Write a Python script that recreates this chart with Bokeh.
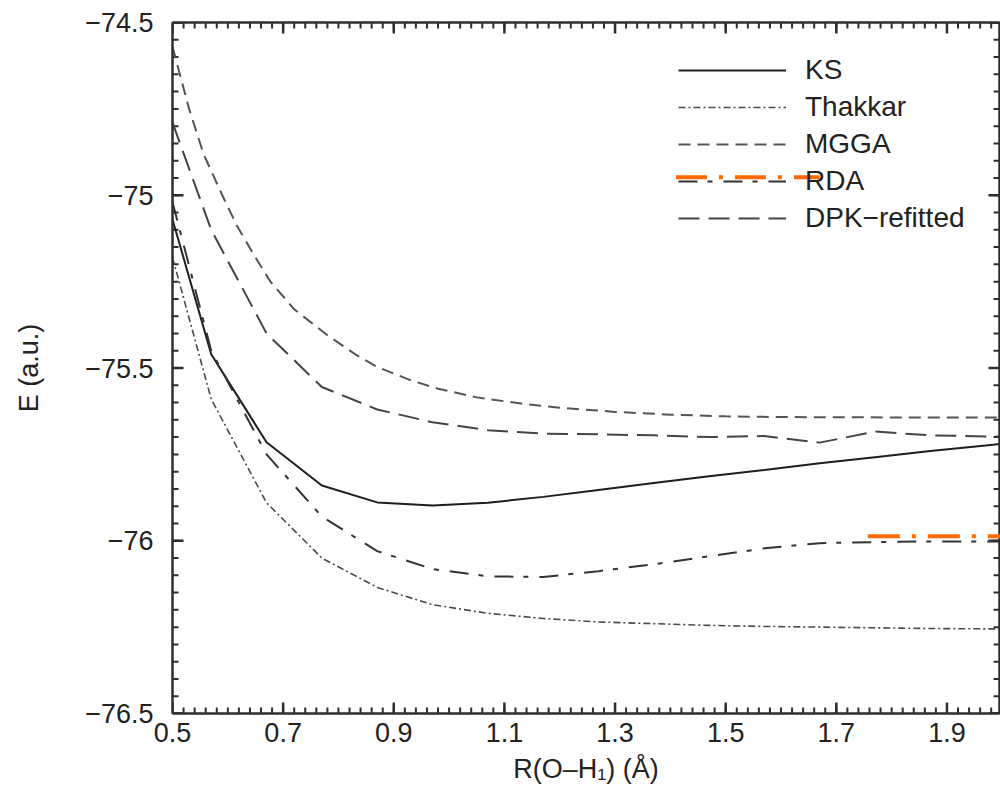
from bokeh.plotting import figure
from bokeh.models import (FixedTicker, LinearAxis, Legend, LegendItem, Label, Range1d)
from bokeh.embed import file_html
from bokeh.resources import INLINE

# ---------------- data ----------------
r_oh = [0.5, 0.57, 0.67, 0.77, 0.87, 0.97, 1.07, 1.17, 1.27, 1.37, 1.47, 1.57,
        1.67, 1.77, 1.87, 1.97, 2.0]
e_ks = [-75.07, -75.46, -75.715, -75.84, -75.889, -75.898, -75.89, -75.873,
        -75.853, -75.833, -75.813, -75.795, -75.776, -75.758, -75.74, -75.724, -75.719]
e_thakkar = [-75.18, -75.59, -75.89, -76.05, -76.135, -76.185, -76.21, -76.225,
             -76.235, -76.24, -76.245, -76.248, -76.25, -76.252, -76.254, -76.255, -76.255]
e_rda = [-75.02, -75.45, -75.75, -75.93, -76.03, -76.082, -76.103, -76.105,
         -76.088, -76.068, -76.045, -76.022, -76.007, -76.004, -76.002, -76.002, -76.002]
e_dpk = [-74.79, -75.10, -75.40, -75.555, -75.62, -75.657, -75.68, -75.69,
         -75.692, -75.695, -75.70, -75.697, -75.716, -75.684, -75.695, -75.698, -75.698]

# MGGA is drawn on its own (smooth) grid
r_mgga = [0.5, 0.53, 0.556, 0.59, 0.617, 0.65, 0.677, 0.72, 0.78, 0.83, 0.87,
          0.93, 0.98, 1.05, 1.13, 1.2, 1.3, 1.4, 1.5, 1.6, 1.8, 2.0]
e_mgga = [-74.57, -74.75, -74.88, -75.0, -75.09, -75.18, -75.25, -75.33, -75.405,
          -75.46, -75.497, -75.535, -75.56, -75.585, -75.603, -75.615, -75.627,
          -75.635, -75.64, -75.642, -75.643, -75.643]

series_labels = ["KS", "Thakkar", "MGGA", "RDA", "DPK\u2212refitted"]

# orange highlight strokes (plot end of RDA and legend sample)
hl_plot_x = [1.757, 1.996]
hl_plot_y = [-75.987, -75.987]
hl_leg_x = [1.410, 1.670]
hl_leg_y = [-74.948, -74.948]

x_major = [0.5, 0.7, 0.9, 1.1, 1.3, 1.5, 1.7, 1.9]
x_minor = [round(0.5 + 0.02 * i, 2) for i in range(75)]
y_major = [-76.5, -76.0, -75.5, -75.0, -74.5]
y_minor = [round(-76.5 + 0.05 * i, 2) for i in range(41)]
y_labels = {-76.5: "\u221276.5", -76.0: "\u221276", -75.5: "\u221275.5",
            -75.0: "\u221275", -74.5: "\u221274.5"}
x_labels = {v: f"{v:.1f}" for v in x_major}

FONT = "Liberation Sans"
INK = "#222222"
AXC = "#2e2e2e"

X0, X1 = 0.5, 1.995
Y0, Y1 = -76.5, -74.5
FRAME_W, FRAME_H = 827, 691

p = figure(width=1000, height=795, output_backend="svg", toolbar_location=None,
           x_range=Range1d(X0, X1), y_range=Range1d(Y0, Y1),
           min_border_left=172, min_border_right=1, min_border_top=22,
           min_border_bottom=82, background_fill_color="white",
           border_fill_color="white")
p.xgrid.visible = False
p.ygrid.visible = False
p.outline_line_color = AXC
p.outline_line_width = 2


def style_axis(ax, ticks, labels, show_labels):
    ax.ticker = FixedTicker(ticks=ticks)
    ax.axis_line_color = AXC
    ax.axis_line_width = 2
    ax.major_tick_in = 0
    ax.major_tick_out = 0
    ax.minor_tick_in = 0
    ax.minor_tick_out = 0
    ax.major_tick_line_color = None
    ax.minor_tick_line_color = None
    if show_labels:
        ax.major_label_overrides = labels
        ax.major_label_text_font = FONT
        ax.major_label_text_font_size = "27px"
        ax.major_label_text_color = INK
    else:
        ax.major_label_text_font_size = "0px"
        ax.major_label_standoff = 0


xa = p.xaxis[0]
style_axis(xa, x_major, x_labels, True)
xa.major_label_standoff = 9
xa.axis_label = "R(O\u2013H\u2081) (\u00c5)"
xa.axis_label_text_font = FONT
xa.axis_label_text_font_size = "27px"
xa.axis_label_text_font_style = "normal"
xa.axis_label_text_color = INK
xa.axis_label_standoff = 9

ya = p.yaxis[0]
style_axis(ya, y_major, y_labels, True)
ya.major_label_standoff = 19
ya.axis_label = "E (a.u.)"
ya.axis_label_text_font = FONT
ya.axis_label_text_font_size = "27px"
ya.axis_label_text_font_style = "normal"
ya.axis_label_text_color = INK
ya.axis_label_standoff = 38

top_ax = LinearAxis()
style_axis(top_ax, x_major, {}, False)
p.add_layout(top_ax, "above")
right_ax = LinearAxis()
style_axis(right_ax, y_major, {}, False)
p.add_layout(right_ax, "right")

# ---------------- inward tick marks on all four sides ----------------
dx_px = (X1 - X0) / FRAME_W
dy_px = (Y1 - Y0) / FRAME_H
MAJ, MIN = 11, 6


def tick_paths(xvals, yvals, L):
    xs, ys = [], []
    for v in xvals:
        xs += [[v, v], [v, v]]
        ys += [[Y0, Y0 + L * dy_px], [Y1, Y1 - L * dy_px]]
    for v in yvals:
        xs += [[X0, X0 + L * dx_px], [X1, X1 - L * dx_px]]
        ys += [[v, v], [v, v]]
    return xs, ys


mxs, mys = tick_paths(x_minor, y_minor, MIN)
p.multi_line(mxs, mys, line_color=AXC, line_width=2)
Mxs, Mys = tick_paths(x_major, y_major, MAJ)
p.multi_line(Mxs, Mys, line_color=AXC, line_width=2.5)

# ---------------- curves ----------------
r_ks = p.line(r_oh, e_ks, line_color="#1e1e1e", line_width=2)
r_th = p.line(r_oh, e_thakkar, line_color="#4a4a4a", line_width=1.6, line_dash="7 3 2 3")
r_mg = p.line(r_mgga, e_mgga, line_color="#555555", line_width=2, line_dash="12 7")
r_rd = p.line(r_oh, e_rda, line_color="#333333", line_width=2, line_dash="19 10 5 11")
r_dp = p.line(r_oh, e_dpk, line_color="#444444", line_width=2, line_dash="21 9")

h1 = p.line(hl_plot_x, hl_plot_y, line_color="#ff6a00", line_width=4, line_dash="32 12 4 12")
h2 = p.line(hl_leg_x, hl_leg_y, line_color="#ff6a00", line_width=4, line_dash="31 12 4 12")
h1.level = "overlay"
h2.level = "overlay"

legend = Legend(items=[LegendItem(label=series_labels[0], renderers=[r_ks]),
                       LegendItem(label=series_labels[1], renderers=[r_th]),
                       LegendItem(label=series_labels[2], renderers=[r_mg]),
                       LegendItem(label=series_labels[3], renderers=[r_rd]),
                       LegendItem(label=series_labels[4], renderers=[r_dp])],
                location=(506, 479), padding=0, margin=0, spacing=5,
                glyph_width=108, glyph_height=30, label_height=30,
                label_standoff=19, background_fill_alpha=0,
                border_line_alpha=0, label_text_font=FONT,
                label_text_font_size="28px", label_text_color=INK)
p.add_layout(legend)

# cropped panel-letter fragment at the left page edge
p.add_layout(Label(x=0.5 + (8 - 172) / 553.6, y=-75.64, text=")",
                   text_font=FONT, text_font_size="40px", text_font_style="bold",
                   text_align="right", text_baseline="middle", text_color="black"))

open("out.html", "w").write(file_html(p, INLINE))
